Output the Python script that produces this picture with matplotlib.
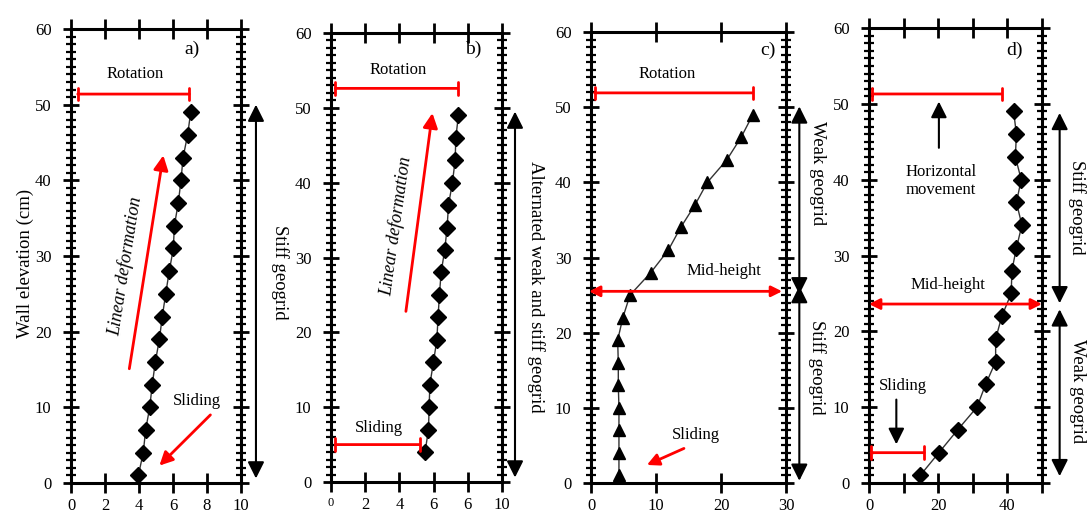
import matplotlib
matplotlib.use('Agg')
import matplotlib.pyplot as plt
from matplotlib.ticker import MultipleLocator, FixedLocator

plt.rcParams['font.family'] = ['Liberation Serif', 'DejaVu Serif']

# wall elevation (cm) and horizontal displacement (mm) of the facing
elev_a = [1, 4, 7, 10, 13, 16, 19, 22, 25, 28, 31, 34, 37, 40, 43, 46, 49]
disp_a = [3.96, 4.25, 4.39, 4.63, 4.78, 4.96, 5.2, 5.37, 5.57, 5.78, 6.02, 6.08, 6.31, 6.47, 6.59, 6.86, 7.04]

elev_b = [4, 7, 10, 13, 16, 19, 22, 25, 28, 31, 34, 37, 40, 43, 46, 49]
disp_b = [5.5, 5.7, 5.74, 5.78, 5.99, 6.19, 6.26, 6.34, 6.44, 6.65, 6.79, 6.87, 7.1, 7.26, 7.3, 7.45]

elev_c = [1, 4, 7, 10, 13, 16, 19, 22, 25, 28, 31, 34, 37, 40, 43, 46, 49]
disp_c = [4.3, 4.3, 4.3, 4.3, 4.2, 4.2, 4.1, 4.9, 6.0, 9.2, 11.9, 13.8, 16.0, 17.9, 20.9, 23.1, 24.9]

elev_d = [1, 4, 7, 10, 13, 16, 19, 22, 25, 28, 31, 34, 37, 40, 43, 46, 49]
disp_d = [14.8, 20.2, 25.6, 31.2, 33.7, 36.6, 36.6, 38.4, 41.1, 41.3, 42.6, 44.2, 42.6, 44.0, 42.3, 42.6, 41.8]

xticks_a = [0, 2, 4, 6, 8, 10]
xticks_b = [0, 2, 4, 6, 8, 10]
xlabels_b = ['0', '2', '4', '6', '6', '10']
xticks_c = [0, 10, 20, 30]
xticks_d = [0, 10, 20, 30, 40, 50]
xlabels_d = ['0', '', '20', '', '40', '']
yticks = [0, 10, 20, 30, 40, 50, 60]

W, H = 1088, 520
fig = plt.figure(figsize=(W / 100, H / 100), dpi=100)


def make_axes(left, right, top, bottom, xmax, xticks, xlabels):
    ax = fig.add_axes([left / W, 1 - bottom / H, (right - left) / W, (bottom - top) / H])
    ax.set_xlim(0, xmax)
    ax.set_ylim(0, 60)
    for s in ax.spines.values():
        s.set_linewidth(2.2)
    ax.xaxis.set_major_locator(FixedLocator(xticks))
    ax.set_xticklabels(xlabels)
    ax.yaxis.set_major_locator(FixedLocator(yticks))
    ax.yaxis.set_minor_locator(MultipleLocator(1))
    ax.tick_params(axis='x', which='major', direction='inout', top=True, bottom=True,
                   length=14, width=2, labelsize=12, pad=4)
    ax.tick_params(axis='y', which='major', direction='inout', left=True, right=True,
                   length=12, width=2, labelsize=12, pad=8)
    ax.tick_params(axis='y', which='minor', direction='inout', left=True, right=True,
                   length=7, width=1.6)
    return ax


def bar(ax, x1, x2, y, w=0.45):
    ax.annotate('', xy=(x2, y), xytext=(x1, y), annotation_clip=False,
                arrowprops=dict(arrowstyle='|-|, widthA=%s, widthB=%s' % (w, w), color='red',
                                lw=2, shrinkA=0, shrinkB=0))


def arrow(ax, x1, y1, x2, y2, color='red', style='-|>', lw=2, ms=18):
    ax.annotate('', xy=(x2, y2), xytext=(x1, y1), annotation_clip=False,
                arrowprops=dict(arrowstyle=style, color=color, lw=lw, shrinkA=0, shrinkB=0,
                                mutation_scale=ms))


def side_arrow(ax, x, y1, y2):
    arrow(ax, x, y1, x, y2, color='black', style='<|-|>', lw=1.5, ms=25)


txt = dict(fontsize=12, ha='center', va='center')
side = dict(fontsize=13.5, ha='center', va='center', rotation=-90)

# ---- a)
ax = make_axes(71, 241, 29, 483, 10, xticks_a, [str(t) for t in xticks_a])
ax.plot(disp_a, elev_a, color='#333333', lw=1, marker='D', ms=8, mfc='black', mec='black')
ax.text(7.1, 57.3, 'a)', fontsize=14, ha='center', va='center')
bar(ax, 0.4, 6.96, 51.4)
ax.text(3.8, 54.0, 'Rotation', **txt)
arrow(ax, 3.43, 15.1, 5.43, 43.3, ms=22)
ax.text(3.2, 28.6, 'Linear deformation', rotation=81, style='italic', fontsize=13,
        ha='center', va='center')
arrow(ax, 8.2, 9.0, 5.2, 2.3, ms=20)
ax.text(7.4, 10.8, 'Sliding', **txt)
side_arrow(ax, 10.88, 0.6, 50.0)
ax.text(12.3, 27.9, 'Stiff geogrid', **side)
fig.text(25 / W, 1 - 263 / H, 'Wall elevation (cm)', rotation=90, fontsize=13.5,
         ha='center', va='center')

# ---- b)
ax = make_axes(331, 502, 33, 482, 10, xticks_b, xlabels_b)
ax.get_xticklabels()[0].set_fontsize(9)
ax.plot(disp_b, elev_b, color='#333333', lw=1, marker='D', ms=8, mfc='black', mec='black')
ax.text(8.33, 57.8, 'b)', fontsize=14, ha='center', va='center')
bar(ax, 0.25, 7.41, 52.6)
ax.text(3.95, 55.0, 'Rotation', **txt)
arrow(ax, 4.38, 22.8, 5.93, 49.3, ms=22)
ax.text(3.8, 34.2, 'Linear deformation', rotation=82, style='italic', fontsize=13,
        ha='center', va='center')
bar(ax, 0.25, 5.21, 5.0)
ax.text(2.78, 7.2, 'Sliding', **txt)
side_arrow(ax, 10.76, 0.6, 49.5)
ax.text(12.0, 26.1, 'Alternated weak and stiff geogrid', **side)

# ---- c)
ax = make_axes(591, 786, 32, 483, 30, xticks_c, [str(t) for t in xticks_c])
ax.plot(disp_c, elev_c, color='#333333', lw=1, marker='^', ms=9, mfc='black', mec='black')
ax.text(27.2, 57.6, 'c)', fontsize=14, ha='center', va='center')
bar(ax, 0.56, 24.9, 51.9)
ax.text(11.7, 54.4, 'Rotation', **txt)
arrow(ax, -0.3, 25.5, 29.4, 25.5, style='<|-|>', ms=16)
ax.text(20.5, 28.2, 'Mid-height', **txt)
arrow(ax, 14.3, 4.6, 8.6, 2.4, ms=18)
ax.text(16.1, 6.4, 'Sliding', **txt)
side_arrow(ax, 32.05, 25.1, 50.1)
side_arrow(ax, 32.05, 0.3, 26.2)
ax.text(34.8, 41.2, 'Weak geogrid', **side)
ax.text(34.8, 15.4, 'Stiff geogrid', **side)

# ---- d)
ax = make_axes(869, 1042, 28, 483, 50, xticks_d, xlabels_d)
ax.plot(disp_d, elev_d, color='#333333', lw=1, marker='D', ms=8, mfc='black', mec='black')
ax.text(42.1, 57.1, 'd)', fontsize=14, ha='center', va='center')
bar(ax, 0.9, 38.4, 51.3)
arrow(ax, 20.2, 44.2, 20.2, 50.3, color='black', lw=1.5, ms=24)
ax.text(20.8, 39.8, 'Horizontal\nmovement', linespacing=1.2, **txt)
arrow(ax, 0.0, 23.6, 50.0, 23.6, style='<|-|>', ms=16)
ax.text(22.7, 26.1, 'Mid-height', **txt)
bar(ax, 0.6, 16.0, 4.0)
arrow(ax, 7.9, 11.0, 7.9, 5.1, color='black', lw=1.5, ms=24)
ax.text(9.9, 12.8, 'Sliding', **txt)
side_arrow(ax, 55.1, 23.7, 48.8)
side_arrow(ax, 55.1, 0.9, 22.9)
ax.text(60.2, 36.3, 'Stiff geogrid', **side)
ax.text(60.2, 12.1, 'Weak geogrid', **side)

fig.savefig('out.png', dpi=100)
